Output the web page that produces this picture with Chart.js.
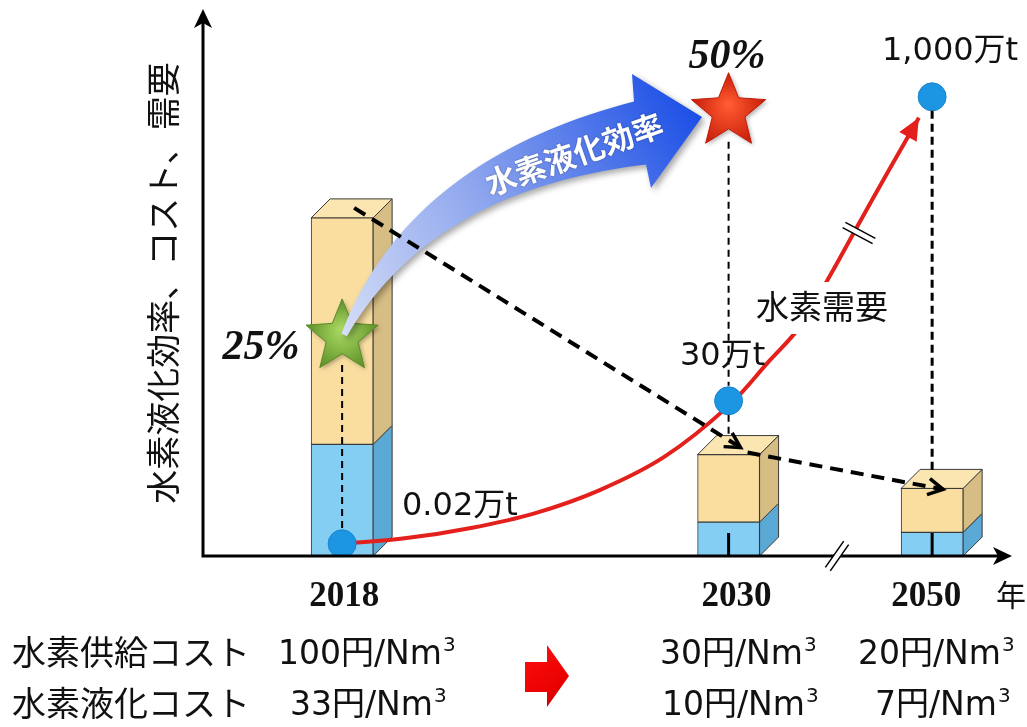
<!DOCTYPE html>
<html lang="ja">
<head>
<meta charset="UTF-8">
<title>水素液化効率・コスト・需要</title>
<script src="https://cdn.jsdelivr.net/npm/chart.js@4.4.0/dist/chart.umd.min.js"></script>
<style>
  html, body { margin: 0; padding: 0; background: #fff; }
  .wrap { position: relative; width: 1027px; height: 727px; }
</style>
</head>
<body>
<div class="wrap"><canvas id="grafico"></canvas></div>
<script>
// dados
const years = [2018, 2030, 2050];
const supplyCost = [100, 30, 20];          // 水素供給コスト (円/Nm3)
const liquefactionCost = [33, 10, 7];      // 水素液化コスト (円/Nm3)
const supplyLabels = ['100円/Nm', '30円/Nm', '20円/Nm'];
const liquefactionLabels = ['33円/Nm', '10円/Nm', '7円/Nm'];
const efficiencyYears = [2018, 2030];
const efficiencyLabels = ['25%', '50%'];
const efficiencyLevel = [64.8, 131.4];     // altura das estrelas na escala do gráfico
const demandLabels = ['0.02万t', '30万t', '1,000万t'];
const demandLevel = [3.6, 45.9, 135.8];
const curveYears = [2018, 2020, 2022, 2024, 2026, 2028, 2030, 2034, 2037, 2040, 2043, 2046, 2048.7];
const curveLevel = [3.6, 5.3, 8.3, 12.7, 19.5, 29.3, 44.4, 57.7, 67.8, 83.1, 99.4, 115.4, 129.6];

// eixo com quebra (//) entre 2030 e 2050
function eixo(ano) {
    return ano <= 2030 ? ano : 2030 + (ano - 2030) * 0.316;
}

const CJK = '"Noto Sans CJK JP"';
const SANS = '"DejaVu Sans", "Noto Sans CJK JP"';

function estrela(ctx, cx, cy, R, cor, corEsc) {
    const r = R * 0.44;
    ctx.save();
    ctx.beginPath();
    for (let i = 0; i < 10; i++) {
        const a = -Math.PI / 2 + i * Math.PI / 5;
        const rr = i % 2 === 0 ? R : r;
        const px = cx + rr * Math.cos(a), py = cy + rr * Math.sin(a);
        if (i === 0) ctx.moveTo(px, py); else ctx.lineTo(px, py);
    }
    ctx.closePath();
    const g = ctx.createRadialGradient(cx, cy - R * 0.2, 2, cx, cy, R);
    g.addColorStop(0, cor);
    g.addColorStop(1, corEsc);
    ctx.shadowColor = 'rgba(0,0,0,0.3)';
    ctx.shadowBlur = 4;
    ctx.shadowOffsetX = 2; ctx.shadowOffsetY = 2;
    ctx.fillStyle = g;
    ctx.fill();
    ctx.shadowColor = 'transparent';
    ctx.strokeStyle = corEsc;
    ctx.lineWidth = 1;
    ctx.stroke();
    ctx.restore();
}

function tracejada(ctx, x1, y1, x2, y2, larg, dash) {
    ctx.save();
    ctx.strokeStyle = '#000';
    ctx.lineWidth = larg;
    ctx.setLineDash(dash);
    ctx.beginPath(); ctx.moveTo(x1, y1); ctx.lineTo(x2, y2); ctx.stroke();
    ctx.restore();
}

function ponta(ctx, x1, y1, x2, y2, tam) {
    const a = Math.atan2(y2 - y1, x2 - x1);
    ctx.save();
    ctx.strokeStyle = '#000';
    ctx.lineWidth = 3.5;
    ctx.beginPath();
    ctx.moveTo(x2 - tam * Math.cos(a - 0.5), y2 - tam * Math.sin(a - 0.5));
    ctx.lineTo(x2, y2);
    ctx.lineTo(x2 - tam * Math.cos(a + 0.5), y2 - tam * Math.sin(a + 0.5));
    ctx.stroke();
    ctx.restore();
}

function textoSup(ctx, txt, x, y, tam) {
    ctx.font = tam + 'px ' + SANS;
    ctx.textAlign = 'left';
    ctx.textBaseline = 'alphabetic';
    ctx.fillText(txt, x, y);
    const w = ctx.measureText(txt).width;
    ctx.font = Math.round(tam * 0.62) + 'px ' + SANS;
    ctx.fillText('3', x + w + 1, y - tam * 0.38);
}

const desenho = {
    id: 'desenho',
    beforeDatasetsDraw(chart) {
        const ctx = chart.ctx;
        // faces laterais e topo das caixas
        [[0, '#5aa8d4'], [1, '#d6bd84']].forEach(([d, corLado]) => {
            chart.getDatasetMeta(d).data.forEach((el) => {
                const { x, y, base, width } = el.getProps(['x', 'y', 'base', 'width'], true);
                const dx = 19, dy = -19;
                const esq = x - width / 2, dir = x + width / 2;
                ctx.save();
                ctx.strokeStyle = '#3a3a3a';
                ctx.lineWidth = 1;
                ctx.beginPath();
                ctx.moveTo(dir, y); ctx.lineTo(dir + dx, y + dy);
                ctx.lineTo(dir + dx, base + dy); ctx.lineTo(dir, base);
                ctx.closePath();
                ctx.fillStyle = corLado; ctx.fill(); ctx.stroke();
                if (d === 1) {
                    ctx.beginPath();
                    ctx.moveTo(esq, y); ctx.lineTo(esq + dx, y + dy);
                    ctx.lineTo(dir + dx, y + dy); ctx.lineTo(dir, y);
                    ctx.closePath();
                    ctx.fillStyle = '#fbe5b0'; ctx.fill(); ctx.stroke();
                }
                ctx.restore();
            });
        });
    },
    afterDatasetsDraw(chart) {
        const ctx = chart.ctx;
        const xs = chart.scales.x, ys = chart.scales.y;
        const area = chart.chartArea;
        const px = (a) => xs.getPixelForValue(eixo(a));
        const py = (v) => ys.getPixelForValue(v);

        // linhas verticais tracejadas
        tracejada(ctx, px(2018), py(efficiencyLevel[0]) + 28, px(2018), py(demandLevel[0]) - 13, 2, [7, 5]);
        tracejada(ctx, px(2030), py(efficiencyLevel[1]) + 30, px(2030), py(demandLevel[1]) - 15, 2, [7, 5]);
        tracejada(ctx, px(2030), py(demandLevel[1]) + 14, px(2030), py(supplyCost[1]) - 19, 2, [7, 5]);
        tracejada(ctx, px(2050), py(demandLevel[2]) + 14, px(2050), py(supplyCost[2]) - 15, 3, [8, 5]);
        ctx.save();
        ctx.strokeStyle = '#000'; ctx.lineWidth = 3;
        [2030, 2050].forEach((a) => {
            ctx.beginPath(); ctx.moveTo(px(a), area.bottom - 23); ctx.lineTo(px(a), area.bottom); ctx.stroke();
        });
        ctx.restore();

        // ponta da curva de demanda
        const curva = chart.getDatasetMeta(2).data;
        const p1 = curva[curva.length - 2], p2 = curva[curva.length - 1];
        const ang = Math.atan2(p2.y - p1.y, p2.x - p1.x);
        ctx.save();
        ctx.fillStyle = '#e3201b';
        ctx.beginPath();
        ctx.moveTo(p2.x, p2.y);
        ctx.lineTo(p2.x - 22 * Math.cos(ang) + 10 * Math.sin(ang), p2.y - 22 * Math.sin(ang) - 10 * Math.cos(ang));
        ctx.lineTo(p2.x - 22 * Math.cos(ang) - 10 * Math.sin(ang), p2.y - 22 * Math.sin(ang) + 10 * Math.cos(ang));
        ctx.closePath(); ctx.fill();
        ctx.restore();

        // // na curva
        ctx.save();
        ctx.translate(859, 233);
        ctx.rotate(0.49);
        ctx.fillStyle = '#fff';
        ctx.fillRect(-17, -3, 34, 6);
        ctx.strokeStyle = '#000'; ctx.lineWidth = 1.5;
        ctx.beginPath(); ctx.moveTo(-17, -3); ctx.lineTo(17, -3); ctx.moveTo(-17, 3); ctx.lineTo(17, 3); ctx.stroke();
        ctx.restore();

        // estrelas
        estrela(ctx, px(efficiencyYears[0]), py(efficiencyLevel[0]), 38, '#a8d860', '#5b8c26');
        estrela(ctx, px(efficiencyYears[1]), py(efficiencyLevel[1]), 39, '#ff5a30', '#c41a08');

        // seta azul curva (水素液化効率)
        const P0 = { x: px(2018) + 2, y: py(efficiencyLevel[0]) - 2 };
        const P2 = { x: 640, y: 133 }, P1 = { x: 420, y: 175 };
        const topo = [], baixo = [];
        for (let i = 0; i <= 40; i++) {
            const t = i / 40;
            const bx = (1 - t) * (1 - t) * P0.x + 2 * (1 - t) * t * P1.x + t * t * P2.x;
            const by = (1 - t) * (1 - t) * P0.y + 2 * (1 - t) * t * P1.y + t * t * P2.y;
            const tx = 2 * (1 - t) * (P1.x - P0.x) + 2 * t * (P2.x - P1.x);
            const ty = 2 * (1 - t) * (P1.y - P0.y) + 2 * t * (P2.y - P1.y);
            const n = Math.hypot(tx, ty);
            const nx = ty / n, ny = -tx / n;
            const w = (6 + 58 * t) / 2;
            topo.push([bx + nx * w, by + ny * w]);
            baixo.push([bx - nx * w, by - ny * w]);
        }
        ctx.save();
        ctx.beginPath();
        ctx.moveTo(topo[0][0], topo[0][1]);
        topo.forEach((p) => ctx.lineTo(p[0], p[1]));
        ctx.lineTo(632, 74);
        ctx.lineTo(702, 117);
        ctx.lineTo(651, 188);
        for (let i = baixo.length - 1; i >= 0; i--) ctx.lineTo(baixo[i][0], baixo[i][1]);
        ctx.closePath();
        const g = ctx.createLinearGradient(P0.x, P0.y, 700, 117);
        g.addColorStop(0, '#d4ddf6');
        g.addColorStop(0.45, '#8ea6ee');
        g.addColorStop(1, '#1c4fe6');
        ctx.shadowColor = 'rgba(0,0,0,0.35)';
        ctx.shadowBlur = 6;
        ctx.shadowOffsetX = 3; ctx.shadowOffsetY = 3;
        ctx.fillStyle = g;
        ctx.fill();
        ctx.restore();
        ctx.save();
        ctx.translate(574, 154);
        ctx.rotate(-0.34);
        ctx.font = 'bold 31px ' + CJK;
        ctx.textAlign = 'center'; ctx.textBaseline = 'middle';
        ctx.shadowColor = 'rgba(0,0,0,0.4)'; ctx.shadowBlur = 2;
        ctx.fillStyle = '#fff';
        ctx.fillText('水素液化効率', 0, 0);
        ctx.restore();

        // setas tracejadas do custo
        const c0 = { x: px(2018) + 12, y: py(supplyCost[0]) - 10 };
        const c1 = { x: px(2030) + 12, y: py(supplyCost[1]) - 7 };
        const c2 = { x: px(2050) + 11, y: py(supplyCost[2]) + 1 };
        tracejada(ctx, c0.x, c0.y, c1.x, c1.y, 4, [13, 8]);
        ponta(ctx, c0.x, c0.y, c1.x, c1.y, 17);
        tracejada(ctx, c1.x + 7, c1.y + 5, c2.x, c2.y, 4, [13, 8]);
        ponta(ctx, c1.x + 7, c1.y + 5, c2.x, c2.y, 17);

        // 水素需要 com fundo branco
        ctx.save();
        ctx.fillStyle = '#fff';
        ctx.fillRect(752, 282, 140, 52);
        ctx.fillStyle = '#111';
        ctx.font = '33px ' + CJK;
        ctx.textAlign = 'left'; ctx.textBaseline = 'middle';
        ctx.fillText('水素需要', 756, 306);
        ctx.restore();

        // rótulos de demanda e eficiência
        ctx.save();
        ctx.fillStyle = '#111';
        ctx.font = '32px ' + SANS;
        ctx.textBaseline = 'middle'; ctx.textAlign = 'left';
        ctx.fillText(demandLabels[0], 402, 507);
        ctx.fillText(demandLabels[1], 680, 357);
        ctx.fillText(demandLabels[2], 882, 52);
        ctx.font = 'italic bold 42px "Liberation Serif"';
        ctx.textAlign = 'center';
        ctx.fillText(efficiencyLabels[0], 261, 348);
        ctx.fillText(efficiencyLabels[1], 727, 57);
        ctx.restore();

        // eixos
        ctx.save();
        ctx.strokeStyle = '#000'; ctx.fillStyle = '#000';
        ctx.lineWidth = 3;
        ctx.beginPath();
        ctx.moveTo(area.left, area.bottom); ctx.lineTo(area.left, 20);
        ctx.moveTo(area.left - 1.5, area.bottom); ctx.lineTo(area.right - 8, area.bottom);
        ctx.stroke();
        ctx.beginPath();
        ctx.moveTo(area.left, 9); ctx.lineTo(area.left - 9, 28); ctx.lineTo(area.left, 23); ctx.lineTo(area.left + 9, 28);
        ctx.closePath(); ctx.fill();
        ctx.beginPath();
        ctx.moveTo(area.right, area.bottom); ctx.lineTo(area.right - 19, area.bottom - 9);
        ctx.lineTo(area.right - 14, area.bottom); ctx.lineTo(area.right - 19, area.bottom + 9);
        ctx.closePath(); ctx.fill();
        // // no eixo x
        ctx.translate(837, area.bottom);
        ctx.rotate(-0.96);
        ctx.fillStyle = '#fff';
        ctx.fillRect(-16, -3, 32, 6);
        ctx.lineWidth = 1.5;
        ctx.beginPath(); ctx.moveTo(-16, -3); ctx.lineTo(16, -3); ctx.moveTo(-16, 3); ctx.lineTo(16, 3); ctx.stroke();
        ctx.restore();

        // rótulos do eixo x
        ctx.save();
        ctx.fillStyle = '#111';
        ctx.font = 'bold 35px "Liberation Serif"';
        ctx.textAlign = 'center'; ctx.textBaseline = 'middle';
        const ajuste = [2, 8, -6];
        years.forEach((a, i) => ctx.fillText(String(a), px(a) + ajuste[i], 597));
        ctx.font = '30px ' + CJK;
        ctx.fillText('年', 1011, 595);
        // título do eixo y
        ctx.translate(163, 283);
        ctx.rotate(-Math.PI / 2);
        ctx.font = '34px ' + CJK;
        ctx.fillText('水素液化効率、コスト、需要', 0, 0);
        ctx.restore();

        // tabela de custos
        ctx.save();
        ctx.fillStyle = '#111';
        ctx.font = '34px ' + CJK;
        ctx.textAlign = 'left'; ctx.textBaseline = 'alphabetic';
        ctx.fillText('水素供給コスト', 12, 665);
        ctx.fillText('水素液化コスト', 12, 716);
        const colX1 = [278, 660, 858], colX2 = [290, 662, 875];
        supplyLabels.forEach((t, i) => textoSup(ctx, t, colX1[i], 664, 33));
        liquefactionLabels.forEach((t, i) => textoSup(ctx, t, colX2[i], 715, 33));
        // seta vermelha
        ctx.beginPath();
        ctx.moveTo(525, 662); ctx.lineTo(547, 662); ctx.lineTo(547, 645); ctx.lineTo(569, 676);
        ctx.lineTo(547, 707); ctx.lineTo(547, 692); ctx.lineTo(525, 692);
        ctx.closePath();
        const gr = ctx.createLinearGradient(525, 645, 569, 707);
        gr.addColorStop(0, '#ff1010'); gr.addColorStop(0.7, '#e80000'); gr.addColorStop(1, '#a00010');
        ctx.fillStyle = gr; ctx.fill();
        ctx.restore();
    }
};

const config = {
    type: 'bar',
    data: {
        datasets: [
            {
                label: '水素液化コスト', type: 'bar',
                data: years.map((a, i) => ({ x: eixo(a), y: [0, liquefactionCost[i]] })),
                backgroundColor: '#84cdf3', borderColor: '#3a3a3a', borderWidth: 1,
                borderSkipped: false, barThickness: 62, grouped: false, order: 10
            },
            {
                label: '水素供給コスト', type: 'bar',
                data: years.map((a, i) => ({ x: eixo(a), y: [liquefactionCost[i], supplyCost[i]] })),
                backgroundColor: '#f9dea0', borderColor: '#3a3a3a', borderWidth: 1,
                borderSkipped: false, barThickness: 62, grouped: false, order: 10
            },
            {
                label: '水素需要', type: 'line',
                data: curveYears.map((a, i) => ({ x: eixo(a), y: curveLevel[i] })),
                borderColor: '#e3201b', borderWidth: 4, pointRadius: 0, tension: 0.35,
                fill: false, order: 3
            },
            {
                label: '需要', type: 'line', showLine: false,
                data: years.map((a, i) => ({ x: eixo(a), y: demandLevel[i] })),
                pointRadius: 14, pointBackgroundColor: '#1c96e2', pointBorderColor: '#1784cc',
                pointBorderWidth: 1, order: 1
            }
        ]
    },
    options: {
        responsive: true,
        maintainAspectRatio: false,
        animation: false,
        layout: { padding: { left: 203, right: 10, top: 15, bottom: 171 } },
        plugins: { legend: { display: false }, tooltip: { enabled: false } },
        scales: {
            x: { type: 'linear', display: false, offset: false, min: 2013.68, max: 2038.8 },
            y: { display: false, min: 0, max: 160 }
        }
    },
    plugins: [desenho]
};

const grafico = new Chart(document.getElementById('grafico'), config);
</script>
</body>
</html>
